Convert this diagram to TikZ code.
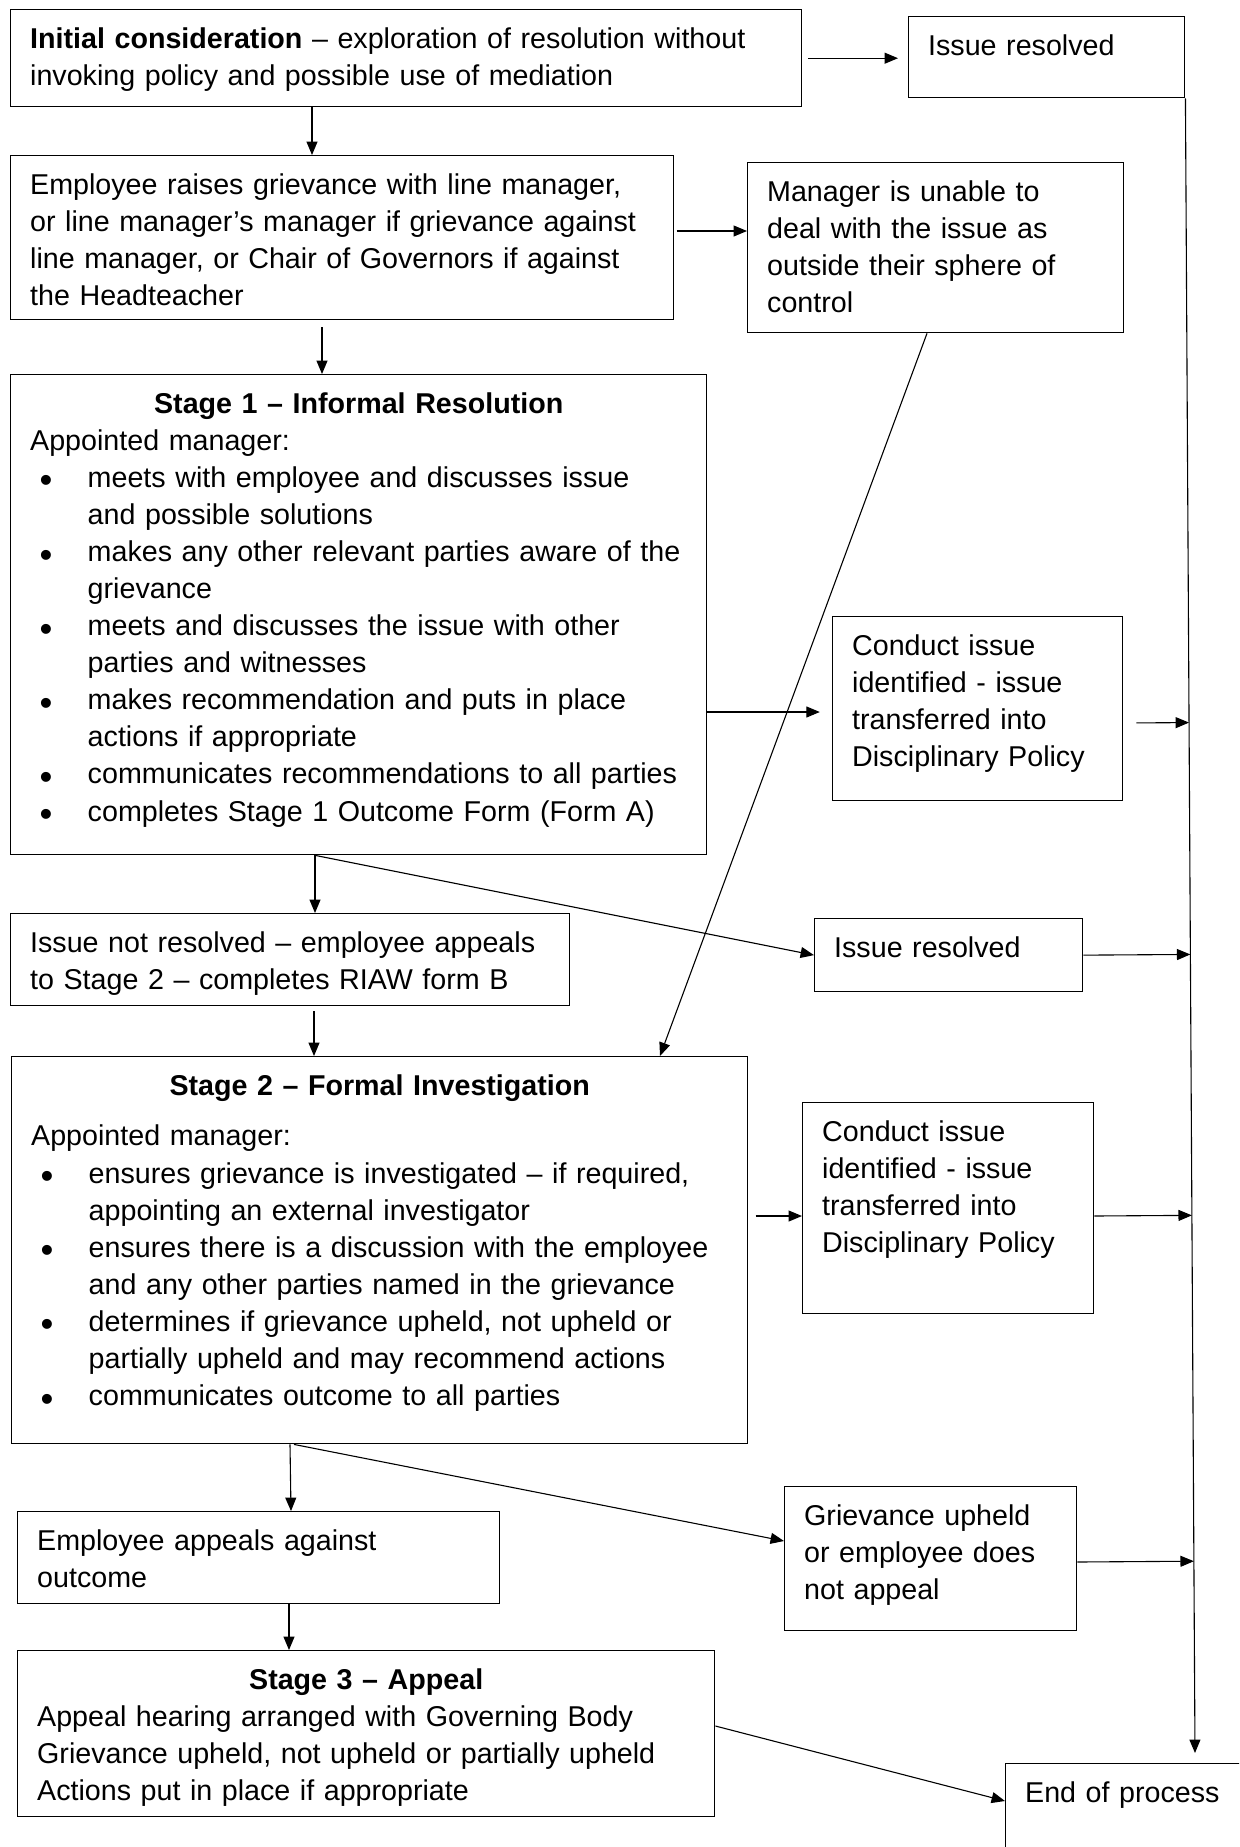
\documentclass[tikz,border=0pt]{standalone}
\usepackage{fontspec}
\setmainfont{Liberation Sans}
\usetikzlibrary{arrows.meta, calc}
\tikzset{%
	box/.style 2 args={
		draw,
		line width=0.55pt,
		anchor=north west,
		align=left,
		inner xsep=8pt,
		inner ysep=6.8pt,
		text height=9pt,
		text width=#1,
		text depth=#2,
		font=\fontsize{11.75}{15.2}\selectfont,
		execute at begin node={\linepenalty=5000 \tolerance=9999 \hyphenpenalty=10000 \exhyphenpenalty=10000 }
	},
}
\newcommand\bitem{\hspace*{3.9pt}\makebox[19.7pt][l]{\raisebox{-2.3pt}{\fontsize{15}{15}\selectfont\textbullet}}}
\newcommand\bcont{\hspace*{23.6pt}}

\begin{document}
\begin{tikzpicture}[
	x=0.41pt, y=-0.41pt,
	arr/.style={-{Triangle[length=5.5pt, width=4.5pt]}, line width=0.45pt}
	]
	\useasboundingbox (0,0) rectangle (1239,1847);
	\clip (0,0) rectangle (1239,1847);

	% Boxes
	\node[box={308.3pt}{17.2pt}] (init) at (10,9) {\textbf{Initial consideration} – exploration of resolution without\\invoking policy and possible use of mediation};
	\node[box={97.2pt}{10.6pt}] (res1) at (908,16) {Issue resolved};
	\node[box={255.8pt}{44.6pt}] (emp) at (10,155) {Employee raises grievance with line manager,\\or line manager’s manager if grievance against\\line manager, or Chair of Governors if against\\the Headteacher};
	\node[box={138.2pt}{47.1pt}] (mgr) at (747,162) {Manager is unable to\\deal with the issue as\\outside their sphere of\\control};
	\node[box={269.4pt}{174.2pt}] (s1) at (10,374) {{\centering\bfseries Stage 1 – Informal Resolution\par}Appointed manager:\\
		\bitem meets with employee and discusses issue\\\bcont and possible solutions\\
		\bitem makes any other relevant parties aware of the\\\bcont grievance\\
		\bitem meets and discusses the issue with other\\\bcont parties and witnesses\\
		\bitem makes recommendation and puts in place\\\bcont actions if appropriate\\
		\bitem communicates recommendations to all parties\\
		\bitem completes Stage 1 Outcome Form (Form A)};
	\node[box={102.9pt}{52.8pt}] (con1) at (832,616) {Conduct issue\\identified - issue\\transferred into\\Disciplinary Policy};
	\node[box={213.2pt}{15.1pt}] (notres) at (10,913) {Issue not resolved – employee appeals\\to Stage 2 – completes RIAW form B};
	\node[box={93.9pt}{7.3pt}] (res2) at (814,918) {Issue resolved};
	\node[box={285.8pt}{136.1pt}] (s2) at (11,1056) {{\centering\bfseries Stage 2 – Formal Investigation\par}\vspace{5.6pt}Appointed manager:\\
		\bitem ensures grievance is investigated – if required,\\\bcont appointing an external investigator\\
		\bitem ensures there is a discussion with the employee\\\bcont and any other parties named in the grievance\\
		\bitem determines if grievance upheld, not upheld or\\\bcont partially upheld and may recommend actions\\
		\bitem communicates outcome to all parties};
	\node[box={103.3pt}{63.9pt}] (con2) at (802,1102) {Conduct issue\\identified - issue\\transferred into\\Disciplinary Policy};
	\node[box={181.6pt}{15.1pt}] (app) at (17,1511) {Employee appeals against\\outcome};
	\node[box={103.7pt}{36.4pt}] (griev) at (784,1486) {Grievance upheld\\or employee does\\not appeal};
	\node[box={269.8pt}{45.5pt}] (s3) at (17,1650) {{\centering\bfseries Stage 3 – Appeal\par}Appeal hearing arranged with Governing Body\\Grievance upheld, not upheld or partially upheld\\Actions put in place if appropriate};
	\node[box={105pt}{60pt}] (fin) at (1005,1763) {End of process};

	\coordinate (railtop) at (res1.south east);
	\coordinate (railend) at (1195,1753);

	% Arrows
	\draw[arr, shorten <=2.5pt, shorten >=4.1pt] (init.east) -- (init.east -| res1.west);
	\draw[arr] (312,0 |- init.south) -- (312,0 |- emp.north);
	\draw[arr, shorten <=1pt] (emp.east |- 0,231) -- (mgr.west |- 0,231);
	\draw[arr, shorten <=2.9pt] (322,0 |- emp.south) -- (322,0 |- s1.north);
	\draw[arr] (927,0 |- mgr.south) -- (660,0 |- s2.north);
	\draw[arr, shorten >=5pt] (s1.east |- 0,712) -- (con1.west |- 0,712);
	\draw[arr, shorten <=5.3pt] (con1.east |- 0,723) -- ($(railtop)!(con1.east |- 0,723)!(railend)$);
	\draw[arr] (315,0 |- s1.south) -- (315,0 |- notres.north);
	\draw[arr] (315,0 |- s1.south) -- (res2.west);
	\draw[arr] (res2.east) -- ($(railtop)!(res2.east)!(railend)$);
	\draw[arr, shorten <=2pt] (314,0 |- notres.south) -- (314,0 |- s2.north);
	\draw[arr, shorten <=2.9pt] (s2.east |- 0,1216) -- (con2.west |- 0,1216);
	\draw[arr] (con2.east |- 0,1216) -- ($(railtop)!(con2.east |- 0,1216)!(railend)$);
	\draw[arr] (290,0 |- s2.south) -- (291,0 |- app.north);
	\draw[arr] (294,0 |- s2.south) -- (griev.west |- 0,1541);
	\draw[arr] (griev.east |- 0,1562) -- ($(railtop)!(griev.east |- 0,1562)!(railend)$);
	\draw[arr] (289,0 |- app.south) -- (289,0 |- s3.north);
	\draw[arr] (s3.east |- 0,1726) -- (fin.west |- 0,1801);
	\draw[arr] (railtop) -- (railend);
\end{tikzpicture}
\end{document}
